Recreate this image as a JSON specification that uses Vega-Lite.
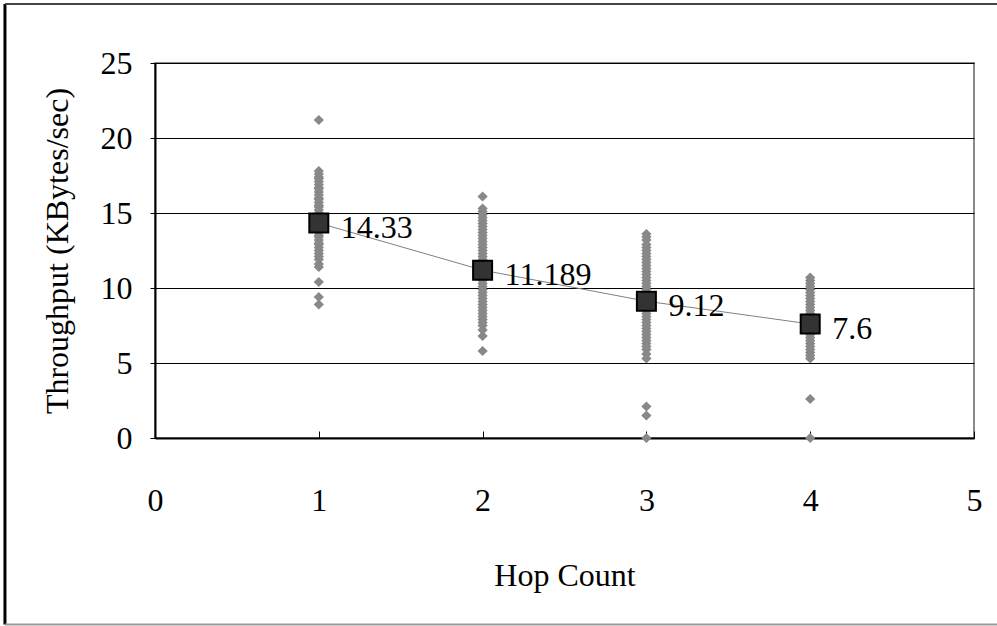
{
  "$schema": "https://vega.github.io/schema/vega-lite/v6.json",
  "autosize": "none",
  "width": 819,
  "height": 375,
  "padding": {"left": 155, "top": 63, "right": 23, "bottom": 188},
  "background": "white",
  "config": {
    "font": "Liberation Serif",
    "view": {"stroke": "#8a8a8a", "strokeWidth": 2},
    "axis": {"labelFont": "Liberation Serif", "titleFont": "Liberation Serif", "labelColor": "black", "titleColor": "black", "titleFontWeight": "normal", "labelFontSize": 32, "titleFontSize": 32}
  },
  "datasets": {
    "raw": [
      {"hop": 1, "tp": 21.2}, {"hop": 1, "tp": 17.8}, {"hop": 1, "tp": 17.6}, {"hop": 1, "tp": 17.4}, {"hop": 1, "tp": 17.3}, {"hop": 1, "tp": 17.1}, {"hop": 1, "tp": 16.9}, {"hop": 1, "tp": 16.7}, {"hop": 1, "tp": 16.6}, {"hop": 1, "tp": 16.4}, {"hop": 1, "tp": 16.2}, {"hop": 1, "tp": 16.0}, {"hop": 1, "tp": 15.9}, {"hop": 1, "tp": 15.7}, {"hop": 1, "tp": 15.5}, {"hop": 1, "tp": 15.4}, {"hop": 1, "tp": 15.2}, {"hop": 1, "tp": 15.0}, {"hop": 1, "tp": 14.9}, {"hop": 1, "tp": 14.7}, {"hop": 1, "tp": 14.5}, {"hop": 1, "tp": 14.4}, {"hop": 1, "tp": 14.2}, {"hop": 1, "tp": 14.0}, {"hop": 1, "tp": 13.9}, {"hop": 1, "tp": 13.7}, {"hop": 1, "tp": 13.5}, {"hop": 1, "tp": 13.4}, {"hop": 1, "tp": 13.2}, {"hop": 1, "tp": 13.0}, {"hop": 1, "tp": 12.9}, {"hop": 1, "tp": 12.7}, {"hop": 1, "tp": 12.5}, {"hop": 1, "tp": 12.3}, {"hop": 1, "tp": 12.1}, {"hop": 1, "tp": 11.9}, {"hop": 1, "tp": 11.6}, {"hop": 1, "tp": 11.4}, {"hop": 1, "tp": 10.4}, {"hop": 1, "tp": 9.4}, {"hop": 1, "tp": 8.9},
      {"hop": 2, "tp": 16.1}, {"hop": 2, "tp": 15.3}, {"hop": 2, "tp": 15.1}, {"hop": 2, "tp": 14.9}, {"hop": 2, "tp": 14.7}, {"hop": 2, "tp": 14.5}, {"hop": 2, "tp": 14.3}, {"hop": 2, "tp": 14.1}, {"hop": 2, "tp": 13.9}, {"hop": 2, "tp": 13.7}, {"hop": 2, "tp": 13.5}, {"hop": 2, "tp": 13.3}, {"hop": 2, "tp": 13.1}, {"hop": 2, "tp": 12.9}, {"hop": 2, "tp": 12.7}, {"hop": 2, "tp": 12.5}, {"hop": 2, "tp": 12.3}, {"hop": 2, "tp": 12.1}, {"hop": 2, "tp": 11.9}, {"hop": 2, "tp": 11.7}, {"hop": 2, "tp": 11.5}, {"hop": 2, "tp": 11.3}, {"hop": 2, "tp": 11.1}, {"hop": 2, "tp": 10.9}, {"hop": 2, "tp": 10.7}, {"hop": 2, "tp": 10.5}, {"hop": 2, "tp": 10.3}, {"hop": 2, "tp": 10.1}, {"hop": 2, "tp": 9.9}, {"hop": 2, "tp": 9.7}, {"hop": 2, "tp": 9.5}, {"hop": 2, "tp": 9.3}, {"hop": 2, "tp": 9.1}, {"hop": 2, "tp": 8.9}, {"hop": 2, "tp": 8.7}, {"hop": 2, "tp": 8.5}, {"hop": 2, "tp": 8.3}, {"hop": 2, "tp": 8.1}, {"hop": 2, "tp": 7.9}, {"hop": 2, "tp": 7.7}, {"hop": 2, "tp": 7.5}, {"hop": 2, "tp": 7.2}, {"hop": 2, "tp": 6.8}, {"hop": 2, "tp": 5.8},
      {"hop": 3, "tp": 13.6}, {"hop": 3, "tp": 13.4}, {"hop": 3, "tp": 13.2}, {"hop": 3, "tp": 12.9}, {"hop": 3, "tp": 12.7}, {"hop": 3, "tp": 12.5}, {"hop": 3, "tp": 12.3}, {"hop": 3, "tp": 12.1}, {"hop": 3, "tp": 11.9}, {"hop": 3, "tp": 11.7}, {"hop": 3, "tp": 11.5}, {"hop": 3, "tp": 11.3}, {"hop": 3, "tp": 11.1}, {"hop": 3, "tp": 10.9}, {"hop": 3, "tp": 10.7}, {"hop": 3, "tp": 10.5}, {"hop": 3, "tp": 10.3}, {"hop": 3, "tp": 10.1}, {"hop": 3, "tp": 9.9}, {"hop": 3, "tp": 9.7}, {"hop": 3, "tp": 9.5}, {"hop": 3, "tp": 9.3}, {"hop": 3, "tp": 9.1}, {"hop": 3, "tp": 8.9}, {"hop": 3, "tp": 8.7}, {"hop": 3, "tp": 8.5}, {"hop": 3, "tp": 8.3}, {"hop": 3, "tp": 8.1}, {"hop": 3, "tp": 7.9}, {"hop": 3, "tp": 7.7}, {"hop": 3, "tp": 7.5}, {"hop": 3, "tp": 7.3}, {"hop": 3, "tp": 7.1}, {"hop": 3, "tp": 6.9}, {"hop": 3, "tp": 6.7}, {"hop": 3, "tp": 6.5}, {"hop": 3, "tp": 6.3}, {"hop": 3, "tp": 6.1}, {"hop": 3, "tp": 5.9}, {"hop": 3, "tp": 5.6}, {"hop": 3, "tp": 5.3}, {"hop": 3, "tp": 2.1}, {"hop": 3, "tp": 1.5}, {"hop": 3, "tp": 0},
      {"hop": 4, "tp": 10.7}, {"hop": 4, "tp": 10.5}, {"hop": 4, "tp": 10.3}, {"hop": 4, "tp": 10.1}, {"hop": 4, "tp": 9.9}, {"hop": 4, "tp": 9.7}, {"hop": 4, "tp": 9.5}, {"hop": 4, "tp": 9.3}, {"hop": 4, "tp": 9.1}, {"hop": 4, "tp": 8.9}, {"hop": 4, "tp": 8.7}, {"hop": 4, "tp": 8.5}, {"hop": 4, "tp": 8.3}, {"hop": 4, "tp": 8.1}, {"hop": 4, "tp": 7.9}, {"hop": 4, "tp": 7.7}, {"hop": 4, "tp": 7.5}, {"hop": 4, "tp": 7.3}, {"hop": 4, "tp": 7.1}, {"hop": 4, "tp": 6.9}, {"hop": 4, "tp": 6.7}, {"hop": 4, "tp": 6.5}, {"hop": 4, "tp": 6.3}, {"hop": 4, "tp": 6.1}, {"hop": 4, "tp": 5.9}, {"hop": 4, "tp": 5.7}, {"hop": 4, "tp": 5.5}, {"hop": 4, "tp": 5.3}, {"hop": 4, "tp": 2.6}, {"hop": 4, "tp": 0}
    ],
    "means": [
      {"hop": 1, "tp": 14.33, "label": "14.33"},
      {"hop": 2, "tp": 11.189, "label": "11.189"},
      {"hop": 3, "tp": 9.12, "label": "9.12"},
      {"hop": 4, "tp": 7.6, "label": "7.6"}
    ]
  },
  "layer": [
    {
      "data": {"name": "raw"},
      "mark": {"type": "point", "shape": "diamond", "filled": true, "size": 105, "color": "#888888", "opacity": 1},
      "encoding": {
        "x": {"field": "hop", "type": "quantitative", "scale": {"domain": [0, 5], "nice": false},
          "axis": {"values": [0, 1, 2, 3, 4, 5], "format": "d", "labelFlush": false, "grid": false, "domainColor": "black", "domainWidth": 2, "tickColor": "black", "tickSize": -7, "tickWidth": 1, "labelPadding": 69, "labelBaseline": "middle", "title": "Hop Count", "titlePadding": 44}},
        "y": {"field": "tp", "type": "quantitative", "scale": {"domain": [0, 25], "nice": false},
          "axis": {"values": [0, 5, 10, 15, 20, 25], "labelFlush": false, "grid": true, "gridColor": "black", "gridWidth": 1, "gridOpacity": 1, "domainColor": "black", "domainWidth": 2, "tickColor": "black", "tickSize": 5, "labelPadding": 18, "labelBaseline": "middle", "title": "Throughput (KBytes/sec)", "titlePadding": 26}}
      }
    },
    {
      "data": {"name": "means"},
      "mark": {"type": "line", "color": "#808080", "strokeWidth": 1},
      "encoding": {
        "x": {"field": "hop", "type": "quantitative"},
        "y": {"field": "tp", "type": "quantitative"}
      }
    },
    {
      "data": {"name": "means"},
      "mark": {"type": "point", "shape": "square", "filled": true, "size": 361, "fill": "#333333", "stroke": "black", "strokeWidth": 2, "opacity": 1},
      "encoding": {
        "x": {"field": "hop", "type": "quantitative"},
        "y": {"field": "tp", "type": "quantitative"}
      }
    },
    {
      "data": {"name": "means"},
      "mark": {"type": "text", "align": "left", "baseline": "middle", "dx": 22, "dy": 5, "fontSize": 32, "font": "Liberation Serif", "color": "black"},
      "encoding": {
        "x": {"field": "hop", "type": "quantitative"},
        "y": {"field": "tp", "type": "quantitative"},
        "text": {"field": "label"}
      }
    },
    {
      "data": {"values": [{"a": 1}]},
      "mark": {"type": "rule", "color": "black", "strokeWidth": 3, "clip": false},
      "encoding": {
        "x": {"datum": -0.916},
        "y": {"datum": 28.93},
        "y2": {"datum": -12.43}
      }
    },
    {
      "data": {"values": [{"a": 1}]},
      "mark": {"type": "rule", "color": "#444444", "strokeWidth": 2, "clip": false},
      "encoding": {
        "x": {"datum": -0.916},
        "x2": {"datum": 5.2},
        "y": {"datum": 28.93}
      }
    },
    {
      "data": {"values": [{"a": 1}]},
      "mark": {"type": "rule", "color": "#999999", "strokeWidth": 2, "clip": false},
      "encoding": {
        "x": {"datum": -0.916},
        "x2": {"datum": 5.2},
        "y": {"datum": -12.43}
      }
    }
  ]
}
